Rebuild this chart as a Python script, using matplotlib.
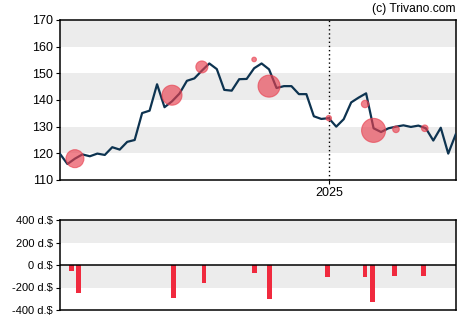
import numpy as np
import pandas as pd
import matplotlib
matplotlib.use("Agg")
import matplotlib.pyplot as plt
import matplotlib.dates as mdates

plt.rcParams['font.family'] = ['Liberation Sans', 'DejaVu Sans']

# Weekly closing prices
start = "2024-04-24"
prices = [119.8, 116.0, 118.0, 119.6, 118.9, 119.9, 119.4, 122.3, 121.4, 124.3,
          125.0, 135.1, 136.0, 145.9, 137.3, 139.5, 142.4, 147.2, 148.1, 151.0,
          153.7, 151.6, 143.8, 143.5, 147.8, 147.9, 151.9, 153.7, 151.5, 144.5,
          145.2, 145.2, 142.2, 142.2, 133.9, 132.9, 133.2, 130.0, 132.8, 139.1,
          140.9, 142.5, 129.4, 128.0, 129.4, 130.0, 130.5, 129.9, 130.4, 129.4,
          124.8, 129.6, 119.9, 127.1]

# Insider transactions: price level and bubble radius
trade_dates = ["2024-05-08", "2024-08-07", "2024-09-04", "2024-10-23", "2024-11-06",
               "2025-01-01", "2025-02-04", "2025-02-12", "2025-03-05", "2025-04-01"]
trade_prices = [118.0, 141.8, 152.4, 155.2, 145.2, 133.2, 138.5, 128.6, 129.0, 129.4]
trade_radius = [9, 10, 6, 2.3, 11, 2.7, 3.7, 12, 3.3, 3.3]

# Net transaction value (thousands of dollars)
flow_dates = ["2024-05-05", "2024-05-11", "2024-08-08", "2024-09-06", "2024-10-23",
              "2024-11-06", "2024-12-31", "2025-02-04", "2025-02-11", "2025-03-04",
              "2025-03-31"]
flow_values = [-50, -250, -290, -157, -68, -300, -104, -104, -326, -95, -95]

dates = pd.date_range(start, periods=len(prices), freq="7D")
tdates = pd.to_datetime(trade_dates)
fdates = pd.to_datetime(flow_dates)

fig = plt.figure(figsize=(4.7, 3.25), dpi=100)
ax = fig.add_axes([60 / 470, 1 - 180 / 325, 395.7 / 470, 160 / 325])
ax2 = fig.add_axes([60 / 470, 1 - 310 / 325, 395.7 / 470, 90 / 325])

band = "#ececec"
for lo in (120, 140, 160):
    ax.axhspan(lo, lo + 10, color=band, lw=0, zorder=0)
ax.plot(dates, prices, color="#0d3350", lw=1.6, zorder=3)
ax.scatter(tdates, trade_prices, s=(2 * np.array(trade_radius) * 0.72) ** 2,
           color="#e8404f", alpha=0.65, edgecolors="#e8404f", linewidths=0.8, zorder=4)
ax.axvline(pd.Timestamp("2025-01-01"), color="black", lw=1, ls=(0, (1, 2)), zorder=2)

ax.set_xlim(dates[0], dates[-1])
ax.set_ylim(110, 170)
ax.set_yticks(range(110, 171, 10))
ax.xaxis.set_major_locator(mdates.YearLocator())
ax.xaxis.set_major_formatter(mdates.DateFormatter("%Y"))
ax.tick_params(labelsize=9, length=3, width=0.8, pad=2)

for s in ax.spines.values():
    s.set_linewidth(1.1)

fig.text(455 / 470, 1 - 9 / 325, "(c) Trivano.com", ha="right", va="center", fontsize=8.7)

# lower panel
ax2.axhspan(200, 400, color=band, lw=0, zorder=0)
ax2.axhspan(-200, 0, color=band, lw=0, zorder=0)
ax2.bar(fdates, flow_values, width=4.6, color="#f02a3e", zorder=3)
ax2.axhline(0, color="black", lw=1.1, zorder=4)
ax2.set_xlim(dates[0], dates[-1])
ax2.set_ylim(-400, 400)
ax2.set_yticks([-400, -200, 0, 200, 400])
ax2.set_yticklabels([f"{v} d.$" for v in (-400, -200, 0, 200, 400)])
ax2.set_xticks([])
ax2.tick_params(labelsize=8, length=3, width=0.8, pad=2)
for s in ax2.spines.values():
    s.set_linewidth(1.1)

fig.savefig("out.png", dpi=100)
